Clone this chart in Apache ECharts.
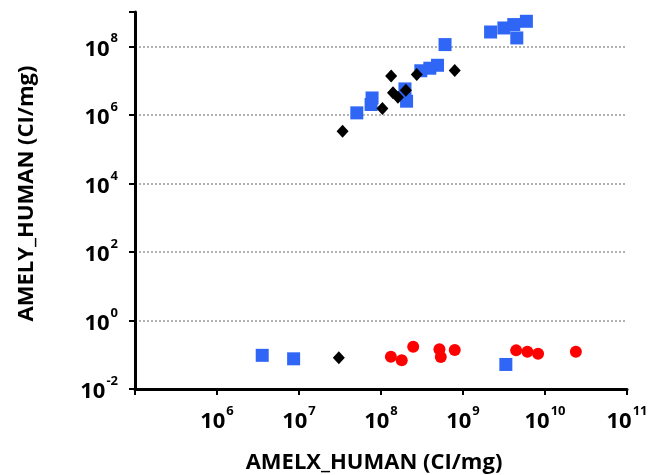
<!DOCTYPE html>
<html>
<head>
<meta charset="utf-8">
<script src="https://cdn.jsdelivr.net/npm/echarts@6/dist/echarts.min.js"></script>
<style>html,body{margin:0;padding:0;background:#fff}#c{width:670px;height:475px}</style>
</head>
<body>
<div id="c"></div>
<script>
// Blue squares
const blueX = [3.56e6, 8.6e6, 3.33e9, 5.07e7, 7.57e7, 7.78e7, 1.96e8, 2.05e8, 3.06e8, 3.94e8, 4.89e8, 6.04e8, 2.17e9, 3.15e9, 4.16e9, 4.53e9, 5.93e9];
const blueY = [0.096, 0.076, 0.052, 1.14e6, 2.0e6, 3.1e6, 5.7e6, 2.5e6, 1.93e7, 2.29e7, 2.79e7, 1.12e8, 2.61e8, 3.42e8, 4.3e8, 1.75e8, 5.36e8];
// Black diamonds
const blackX = [3.06e7, 3.4e7, 1.04e8, 1.33e8, 1.4e8, 1.61e8, 2.01e8, 2.73e8, 7.93e8];
const blackY = [0.082, 3.33e5, 1.53e6, 1.35e7, 4.4e6, 3.26e6, 5.2e6, 1.5e7, 1.97e7];
// Red circles
const redX = [1.32e8, 1.79e8, 2.47e8, 5.16e8, 5.36e8, 7.93e8, 4.45e9, 6.1e9, 8.23e9, 2.38e10];
const redY = [0.0875, 0.0687, 0.171, 0.1435, 0.0858, 0.137, 0.134, 0.122, 0.107, 0.122];

const xTickExps = [6, 7, 8, 9, 10, 11];
const yTickExps = [-2, 0, 2, 4, 6, 8];

const FONT = 'Open Sans';
function zip(xs, ys) { return xs.map((x, i) => [x, ys[i]]); }
function expOf(v) { return Math.round(Math.log10(v)); }
const rich = {
  b: { fontFamily: FONT, fontWeight: 'bold', fontSize: 22, color: '#000', lineHeight: 28, verticalAlign: 'bottom' },
  s: { fontFamily: FONT, fontWeight: 'bold', fontSize: 13, color: '#000', lineHeight: 22, verticalAlign: 'top', padding: [0, 0, 0, 1] }
};

const chart = echarts.init(document.getElementById('c'), null, { renderer: 'canvas' });
chart.setOption({
  animation: false,
  backgroundColor: '#fff',
  grid: { left: 135, right: 43, top: 12, bottom: 86, containLabel: false, outerBoundsMode: 'none' },
  xAxis: {
    type: 'log', logBase: 10, min: 1e5, max: 1e11,
    name: 'AMELX_HUMAN (CI/mg)', nameLocation: 'middle', nameGap: 63,
    nameTextStyle: { fontFamily: FONT, fontWeight: 'bold', fontSize: 22, color: '#000', padding: [0, 14, 0, 0] },
    axisLine: { show: true, lineStyle: { color: '#000', width: 3 } },
    axisTick: { show: true, inside: false, length: 6, lineStyle: { color: '#000', width: 2 } },
    splitLine: { show: false },
    minorTick: { show: false },
    axisLabel: {
      margin: 16,
      formatter: function (v) { const e = expOf(v); return xTickExps.indexOf(e) >= 0 ? '{b|10}{s|' + e + '}' : ''; },
      rich: rich
    }
  },
  yAxis: {
    type: 'log', logBase: 10, min: 1e-2, max: 1e9, interval: 2,
    name: 'AMELY_HUMAN (CI/mg)', nameLocation: 'middle', nameGap: 97, nameRotate: 90,
    nameTextStyle: { fontFamily: FONT, fontWeight: 'bold', fontSize: 22, color: '#000', padding: [0, 0, 0, 14] },
    axisLine: { show: true, lineStyle: { color: '#000', width: 3 } },
    axisTick: { show: true, inside: false, length: 6, lineStyle: { color: '#000', width: 2 } },
    splitLine: { show: true, showMinLine: false, showMaxLine: false, lineStyle: { color: '#999', type: [2, 2], width: 1.5 } },
    axisLabel: {
      margin: 17,
      formatter: function (v) { const e = expOf(v); return yTickExps.indexOf(e) >= 0 ? '{b|10}{s|' + e + '}' : ''; },
      rich: rich
    }
  },
  series: [
    { type: 'scatter', name: 'blue', data: zip(blueX, blueY), symbol: 'rect', symbolSize: 13, itemStyle: { color: '#2f66f6', opacity: 1 }, z: 2 },
    { type: 'scatter', name: 'red', data: zip(redX, redY), symbol: 'circle', symbolSize: 12, itemStyle: { color: '#ff0000', opacity: 1 }, z: 3 },
    { type: 'scatter', name: 'black', data: zip(blackX, blackY), symbol: 'diamond', symbolSize: [12, 13], itemStyle: { color: '#000', opacity: 1 }, z: 4 }
  ]
});
</script>
</body>
</html>
